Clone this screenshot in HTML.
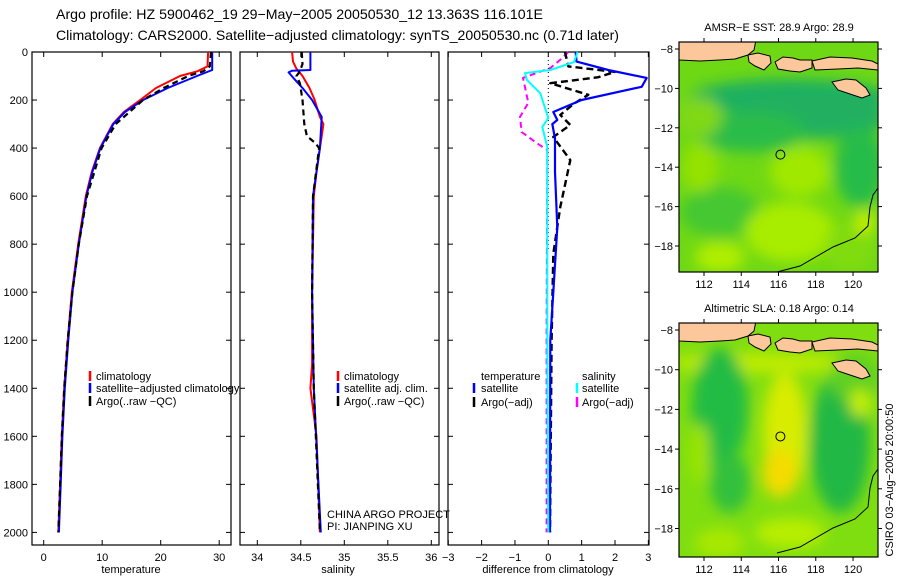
<!DOCTYPE html>
<html><head><meta charset="utf-8"><style>
body{margin:0;background:#fff;width:900px;height:580px;overflow:hidden}
svg{font-family:"Liberation Sans",sans-serif;display:block}
</style></head><body>
<svg id="fig" width="900" height="580" viewBox="0 0 900 580">
<defs>
<filter id="blur6" x="-50%" y="-50%" width="200%" height="200%"><feGaussianBlur stdDeviation="7"/></filter>
<clipPath id="clipM1"><rect x="679" y="42" width="199" height="230"/></clipPath>
<clipPath id="clipM2"><rect x="679" y="323" width="199" height="234"/></clipPath>
</defs>
<text x="56" y="19" font-size="14" textLength="487" lengthAdjust="spacingAndGlyphs">Argo profile: HZ 5900462_19 29−May−2005 20050530_12 13.363S 116.101E</text>
<text x="56" y="40" font-size="14" textLength="563" lengthAdjust="spacingAndGlyphs">Climatology: CARS2000. Satellite−adjusted climatology: synTS_20050530.nc (0.71d later)</text>
<g id="panels"></g>
<g id="maps"></g>
<text transform="translate(893,480) rotate(-90)" font-size="11" text-anchor="middle">CSIRO 03−Aug−2005 20:00:50</text>
</svg>
<script>
const NS="http://www.w3.org/2000/svg";
function mk(tag,attrs,parent){const e=document.createElementNS(NS,tag);for(const k in attrs)e.setAttribute(k,attrs[k]);(parent||document.getElementById('panels')).appendChild(e);return e;}
// ---- data ----
const depthTicks=[0,200,400,600,800,1000,1200,1400,1600,1800,2000];
const tempTicks=[0,10,20,30];
const salTicks=[34,34.5,35,35.5,36];
const salTickLabels=["34","34.5","35","35.5","36"];
const diffTicks=[-3,-2,-1,0,1,2,3];
const tempClimDepth=[0,60,80,100,150,200,250,300,400,500,600,800,1000,1200,1400,1600,1800,2000];
const tempClim=[28.1,28.0,26.3,23.3,19.2,16.5,13.7,11.8,9.6,8.2,7.2,5.9,4.8,4.1,3.5,3.1,2.8,2.5];
const tempSatDepth=[0,75,100,150,200,250,300,400,500,600,800,1000,1200,1400,1600,1800,2000];
const tempSat=[28.8,28.8,26.2,21.2,17.0,13.9,11.9,9.7,8.3,7.3,6.0,4.9,4.2,3.6,3.2,2.9,2.6];
const tempArgoDepth=[0,60,80,100,150,200,300,400,600,800,1000,1200,1400,1600,1800,2000];
const tempArgo=[28.6,28.4,27.3,24.7,20.5,17.0,12.3,9.9,7.4,6.0,4.9,4.1,3.5,3.1,2.8,2.5];
const salClimDepth=[0,40,70,100,150,200,270,300,350,400,500,600,1000,1300,1400,1600,2000];
const salClim=[34.40,34.41,34.45,34.52,34.60,34.66,34.72,34.76,34.74,34.72,34.68,34.65,34.63,34.63,34.61,34.68,34.72];
const salSatDepth=[0,75,78,85,110,150,200,270,400,600,1000,1400,2000];
const salSat=[34.61,34.61,34.40,34.36,34.42,34.52,34.63,34.74,34.72,34.64,34.63,34.65,34.73];
const salArgoDepth=[0,50,80,100,130,200,300,350,380,400,600,1000,1400,2000];
const salArgo=[34.51,34.52,34.49,34.45,34.49,34.52,34.54,34.57,34.67,34.71,34.64,34.63,34.65,34.72];
const dTempSatDepth=[0,40,75,108,145,200,250,283,300,360,500,730,1000,1200,2000];
const dTempSat=[0.82,0.85,1.8,2.95,2.8,1.0,0.15,0.27,0.12,0.2,0.2,0.27,0.15,0.06,0.05];
const dTempArgoDepth=[0,60,83,105,130,178,215,262,304,354,450,645,840,1200,2000];
const dTempArgo=[0.5,0.6,2.0,1.5,0.06,1.2,0.77,0.36,0.66,0.15,0.66,0.36,0.15,0.1,0.05];
const dSalSatDepth=[0,42,75,88,117,172,275,312,396,1200,2000];
const dSalSat=[0.88,0.77,0.06,-0.7,-0.64,-0.24,0,-0.18,-0.03,-0.03,0.0];
const dSalArgoDepth=[0,25,67,108,212,270,333,380,408,1200,2000];
const dSalArgo=[0.6,0.42,0.06,-0.76,-0.6,-0.85,-0.8,-0.34,-0.03,-0.05,-0.05];
// ---- axes ----
const Y0=52,YS=0.2402,BOT=545,TOP=52;
const yD=d=>Y0+d*YS;
const xT=v=>43.7+v*5.85;
const xS=v=>257.3+(v-34)*87;
const xDf=v=>548.3+v*33.35;
function frame(x0,x1,name){mk('rect',{x:x0,y:TOP,width:x1-x0,height:BOT-TOP,fill:'none',stroke:'#000','stroke-width':1.2,});}
function xticks(ticks,labels,fx,x0,x1){ticks.forEach((t,i)=>{const x=fx(t);
 let l=mk('line',{x1:x,x2:x,y1:BOT,y2:BOT-5,stroke:'#000'});
 let l2=mk('line',{x1:x,x2:x,y1:TOP,y2:TOP+5,stroke:'#000'});
 let tx=mk('text',{x:x,y:BOT+16,'font-size':11,'text-anchor':'middle'});tx.textContent=labels[i];});}
function yticks(x0,x1,labels){depthTicks.forEach(d=>{const y=yD(d);
 let a=mk('line',{x1:x0,x2:x0+5,y1:y,y2:y,stroke:'#000'});
 let b=mk('line',{x1:x1,x2:x1-5,y1:y,y2:y,stroke:'#000'});
 if(labels){let t=mk('text',{x:x0-4,y:y+4,'font-size':11,'text-anchor':'end'});t.textContent=d;}});}
function series(dep,vals,fx,color,dash,w,name){const pts=dep.map((d,i)=>fx(vals[i]).toFixed(1)+','+yD(d).toFixed(1)).join(' ');
 const p=mk('polyline',{points:pts,fill:'none',stroke:color,'stroke-width':w,'stroke-dasharray':dash||'none','stroke-linejoin':'round'});
 }
function label(x,y,txt,name,anchor){const t=mk('text',{x:x,y:y,'font-size':11,'text-anchor':anchor||'start'});t.textContent=txt;}
function legMark(x,y,color,name){const l=mk('line',{x1:x,x2:x,y1:y-9,y2:y+1,stroke:color,'stroke-width':2.5});}
// panel 1
frame(32,231,'temperature-panel');xticks(tempTicks,tempTicks.map(String),xT);yticks(32,231,true);
series(tempClimDepth,tempClim,xT,'#f00','',2,'temp-climatology-line');
series(tempSatDepth,tempSat,xT,'#00f','',2,'temp-satellite-line');
series(tempArgoDepth,tempArgo,xT,'#000','6,4',2.2,'temp-argo-line');
label(131,573,'temperature','x-axis-title-temperature','middle');
legMark(90,380,'#f00','legend-mark-climatology');label(96,380,'climatology','legend-climatology');
legMark(90,392,'#00f','legend-mark-satellite');label(96,392,'satellite−adjusted climatology','legend-satellite');
legMark(90,405,'#000','legend-mark-argo');label(96,405,'Argo(..raw −QC)','legend-argo');
// panel 2
frame(240,439,'salinity-panel');xticks(salTicks,salTickLabels,xS);yticks(240,439,false);
series(salClimDepth,salClim,xS,'#f00','',2,'sal-climatology-line');
series(salSatDepth,salSat,xS,'#00f','',2,'sal-satellite-line');
series(salArgoDepth,salArgo,xS,'#000','6,4',2.2,'sal-argo-line');
label(338,573,'salinity','x-axis-title-salinity','middle');
legMark(338,380,'#f00','legend-mark-sal-climatology');label(344,380,'climatology','legend-sal-climatology');
legMark(338,392,'#00f','legend-mark-sal-satellite');label(344,392,'satellite adj. clim.','legend-sal-satellite');
legMark(338,405,'#000','legend-mark-sal-argo');label(344,405,'Argo(..raw −QC)','legend-sal-argo');
label(327,518,'CHINA ARGO PROJECT','credit-project');label(327,530,'PI: JIANPING XU','credit-pi');
// panel 3
frame(448,649,'difference-panel');xticks(diffTicks,diffTicks.map(v=>v<0?'−'+(-v):String(v)),xDf);yticks(448,649,false);
(function(){const l=mk('line',{x1:xDf(0),x2:xDf(0),y1:TOP,y2:yD(820),stroke:'#000','stroke-width':1,'stroke-dasharray':'1,3'});})();
series(dSalArgoDepth,dSalArgo,xDf,'#f0f','6,4',2,'diff-sal-argo-line');
series(dTempArgoDepth,dTempArgo,xDf,'#000','7,4',2.4,'diff-temp-argo-line');
series(dTempSatDepth,dTempSat,xDf,'#00f','',2.2,'diff-temp-satellite-line');
series(dSalSatDepth,dSalSat,xDf,'#0ff','',2,'diff-sal-satellite-line');
label(548,573,'difference from climatology','x-axis-title-difference','middle');
label(481,380,'temperature','legend-temperature-header');
legMark(474,392,'#00f','legend-mark-dt-sat');label(481,392,'satellite','legend-dt-satellite');
legMark(474,406,'#000','legend-mark-dt-argo');label(481,406,'Argo(−adj)','legend-dt-argo');
label(582,380,'salinity','legend-salinity-header');
legMark(577,392,'#0ff','legend-mark-ds-sat');label(582,392,'satellite','legend-ds-satellite');
legMark(577,406,'#f0f','legend-mark-ds-argo');label(582,406,'Argo(−adj)','legend-ds-argo');
// ---- maps ----
const lonTicks=[112,114,116,118,120];
const latTicks=[-8,-10,-12,-14,-16,-18];
const argoLon=116.101, argoLat=-13.363;
function drawMap(top,title,blobs,base,name,clip){
 const g=document.getElementById('maps');
 const xL=v=>704+(v-112)*18.63; const yL=v=>top+7+(-8-v)*(top===42?19.7:19.85);
 const grp=mk('g',{'clip-path':'url(#'+clip+')'},g);
 mk('rect',{x:679,y:top,width:199,height:top===42?230:234,fill:base},grp);
 const bg=mk('g',{filter:'url(#blur6)'},grp);
 blobs.forEach(b=>mk('ellipse',{cx:b[0],cy:top+b[1],rx:b[2],ry:b[3],fill:b[4]},bg));
 const o=top-42;
 const land='#fcc89b';
 [[ "M679,"+(40+o)+" L756,"+(40+o)+" L754,"+(50+o)+" L748,"+(55+o)+" L735,"+(59+o)+" L720,"+(60+o)+" L700,"+(61+o)+" L679,"+(60+o)+"Z"],
  ["M748,"+(55+o)+" L758,"+(53+o)+" L770,"+(56+o)+" L771,"+(63+o)+" L764,"+(70+o)+" L755,"+(66+o)+" L749,"+(62+o)+"Z"],
  ["M775,"+(62+o)+" L783,"+(57+o)+" L793,"+(58+o)+" L800,"+(60+o)+" L812,"+(60+o)+" L812,"+(68+o)+" L800,"+(72+o)+" L790,"+(71+o)+" L778,"+(69+o)+"Z"],
  ["M812,"+(61+o)+" L830,"+(57+o)+" L852,"+(58+o)+" L872,"+(61+o)+" L878,"+(64+o)+" L878,"+(70+o)+" L858,"+(68+o)+" L838,"+(69+o)+" L815,"+(70+o)+"Z"],
  ["M832,"+(82+o)+" L846,"+(79+o)+" L856,"+(80+o)+" L866,"+(88+o)+" L870,"+(95+o)+" L862,"+(98+o)+" L850,"+(94+o)+" L838,"+(90+o)+"Z"]
 ].forEach((p,i)=>{const e=mk('path',{d:p[0],fill:land,stroke:'#000','stroke-width':1},grp);});
 const c=mk('polyline',{points:`777,${272+o} 800,${266+o} 833,${247+o} 855,${238+o} 868,${226+o} 870,${207+o} 873,${195+o} 878,${188+o}`,fill:'none',stroke:'#000','stroke-width':1},grp);
 
 const ci=mk('circle',{cx:xL(argoLon),cy:yL(argoLat),r:4.5,fill:'none',stroke:'#000','stroke-width':1},g);
 const h=top===42?230:234;
 const fr=mk('rect',{x:679,y:top,width:199,height:h,fill:'none',stroke:'#000','stroke-width':1.2},g);
 lonTicks.forEach(v=>{const x=xL(v);
  const a=mk('line',{x1:x,x2:x,y1:top+h,y2:top+h+4,stroke:'#000'},g);
  const b=mk('line',{x1:x,x2:x,y1:top,y2:top-4,stroke:'#000'},g);
  const t=mk('text',{x:x,y:top+h+16,'font-size':11,'text-anchor':'middle'},g);t.textContent=v;});
 latTicks.forEach(v=>{const y=yL(v);
  const a=mk('line',{x1:679,x2:675,y1:y,y2:y,stroke:'#000'},g);
  const b=mk('line',{x1:878,x2:882,y1:y,y2:y,stroke:'#000'},g);
  const t=mk('text',{x:673,y:y+4,'font-size':11,'text-anchor':'end'},g);t.textContent='−'+(-v);});
 const tt=mk('text',{x:779,y:top-11,'font-size':11,'text-anchor':'middle'},g);tt.textContent=title;
}
drawMap(42,'AMSR−E SST: 28.9 Argo: 28.9',[
 [790,55,100,18,'#1fb060'],[810,75,80,22,'#20b060'],[750,90,55,20,'#2cbc48'],[700,75,22,20,'#80d818'],
 [800,130,30,25,'#a0e800'],[860,125,25,40,'#28bc48'],[720,170,40,25,'#44c830'],[790,190,45,30,'#a8ec00'],
 [720,215,25,15,'#b0ee00'],[850,205,25,25,'#80dc10'],[700,125,18,25,'#94e200'],[865,180,10,12,'#c8f000']
],'#6fd814','m1','clipM1');
drawMap(323,'Altimetric SLA: 0.18 Argo: 0.14',[
 [760,40,90,10,'#c0ec00'],[720,85,28,60,'#24bc44'],[730,160,20,30,'#30c03c'],[785,110,22,60,'#d8ec00'],[780,150,18,24,'#f4dc00'],
 [840,120,30,70,'#24b844'],[855,55,25,25,'#60d020'],[860,80,10,14,'#c8f000'],[790,210,35,15,'#b8ee00'],
 [720,220,25,15,'#a8e800'],[700,130,10,30,'#9ce400']
],'#7fde10','m2','clipM2');
</script>
</body></html>
